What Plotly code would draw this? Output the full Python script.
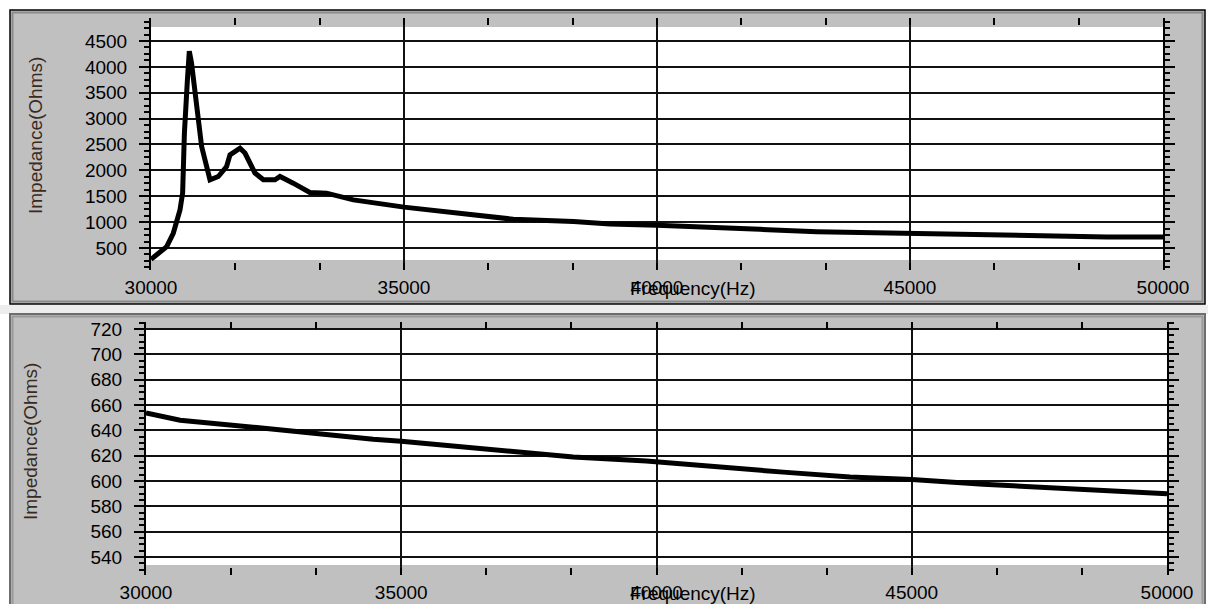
import plotly.graph_objects as go

# ---------------- data ----------------
top_freq = [30000, 30310, 30440, 30573, 30625, 30660, 30720, 30757, 30800, 30870,
            30935, 31000, 31166, 31330, 31494, 31561, 31759, 31857, 32055, 32220,
            32450, 32550, 32810, 33140, 33470, 34000, 35000, 36000, 37160, 38350,
            39070, 40000, 41440, 42030, 43160, 44410, 45000, 46580, 48890, 50000]
top_imp = [281, 525, 785, 1236, 1560, 2722, 3756, 4304, 4080, 3562,
           3110, 2463, 1818, 1882, 2075, 2300, 2430, 2335, 1948, 1818,
           1818, 1882, 1753, 1572, 1560, 1430, 1290, 1185, 1056, 1010,
           965, 940, 870, 860, 816, 790, 785, 746, 713, 712]

bottom_freq = [30000, 30670, 32170, 33280, 34450, 35000, 36080, 37060, 38370,
               39800, 41170, 42480, 43790, 45000, 46400, 47710, 49010, 50000]
bottom_imp = [653.8, 648.0, 642.2, 637.5, 633.0, 631.4, 627.4, 622.9, 619.0,
              615.8, 611.0, 607.0, 603.2, 601.1, 597.4, 594.8, 591.3, 590.0]

x_ticks = [30000, 35000, 40000, 45000, 50000]
x_labels = ["30000", "35000", "40000", "45000", "50000"]
x_title = "Frequency(Hz)"
y_title = "Impedance(Ohms)"

# ---------------- layout helpers ----------------
W, H = 1208, 604
FONT = "Liberation Sans, Arial, sans-serif"


def px(x):
    return x / W


def py(y):
    return 1 - y / H


fig = go.Figure()
fig.add_trace(go.Scatter(x=top_freq, y=top_imp, mode="lines",
                         line=dict(color="black", width=5),
                         xaxis="x", yaxis="y", showlegend=False, hoverinfo="skip"))
fig.add_trace(go.Scatter(x=bottom_freq, y=bottom_imp, mode="lines",
                         line=dict(color="black", width=5),
                         xaxis="x2", yaxis="y2", showlegend=False, hoverinfo="skip"))

tickfont = dict(family=FONT, size=19, color="black")


def xaxis_cfg(domain, anchor):
    return dict(domain=domain, anchor=anchor, range=[30000, 50000], automargin=False,
                tickmode="array", tickvals=x_ticks, ticktext=x_labels,
                showgrid=True, gridcolor="#111111", gridwidth=1.5,
                showline=True, linecolor="rgba(0,0,0,0)", mirror="ticks",
                ticks="inside", ticklen=7, tickwidth=2, tickcolor="black",
                minor=dict(tick0=30000, dtick=20000 / 12, ticks="inside",
                           ticklen=7, tickwidth=2, tickcolor="black", showgrid=False),
                tickfont=tickfont, ticklabelstandoff=0,
                zeroline=False, fixedrange=True)


def yaxis_cfg(domain, anchor, rng, dtick, mdtick):
    return dict(domain=domain, anchor=anchor, range=rng, automargin=False,
                tick0=0, dtick=dtick,
                showgrid=True, gridcolor="#111111", gridwidth=1.5,
                showline=True, linecolor="black", linewidth=2, mirror="ticks",
                ticks="outside", ticklen=10, tickwidth=2, tickcolor="black",
                minor=dict(dtick=mdtick, ticks="outside", ticklen=5,
                           tickwidth=1.5, tickcolor="black", showgrid=False),
                tickfont=tickfont, ticklabelstandoff=8,
                zeroline=False, fixedrange=True)


shapes = [
    # top panel
    dict(type="rect", xref="paper", yref="paper", x0=px(10), x1=px(1205),
         y0=py(304), y1=py(10), fillcolor="#c0c0c0",
         line=dict(color="black", width=1.5), layer="below"),
    dict(type="rect", xref="paper", yref="paper", x0=px(12.5), x1=px(1202.5),
         y0=py(301.5), y1=py(12.5), fillcolor="rgba(0,0,0,0)",
         line=dict(color="#8a8a8a", width=2), layer="below"),
    # light band between panels
    dict(type="rect", xref="paper", yref="paper", x0=0, x1=1,
         y0=py(314), y1=py(305), fillcolor="#ededed", line=dict(width=0), layer="below"),
    # bottom panel
    dict(type="rect", xref="paper", yref="paper", x0=px(10), x1=px(1205),
         y0=py(640), y1=py(314), fillcolor="#c0c0c0",
         line=dict(color="#6e6e6e", width=2), layer="below"),
    dict(type="rect", xref="paper", yref="paper", x0=px(12.5), x1=px(1202.5),
         y0=py(640), y1=py(316.5), fillcolor="rgba(0,0,0,0)",
         line=dict(color="#9a9a9a", width=2), layer="below"),
    # white plot areas
    dict(type="rect", xref="paper", yref="paper", x0=px(151), x1=px(1163),
         y0=py(260), y1=py(27), fillcolor="white", line=dict(width=0), layer="below"),
    dict(type="rect", xref="paper", yref="paper", x0=px(146), x1=px(1167),
         y0=py(565), y1=py(330), fillcolor="white", line=dict(width=0), layer="below"),
]

title_font = dict(family=FONT, size=19, color="#3a2a1e")
annotations = [
    dict(text=y_title, xref="paper", yref="paper", x=px(35), y=py(136),
         textangle=-90, showarrow=False, font=title_font,
         xanchor="center", yanchor="middle"),
    dict(text=y_title, xref="paper", yref="paper", x=px(30), y=py(442),
         textangle=-90, showarrow=False, font=title_font,
         xanchor="center", yanchor="middle"),
    dict(text=x_title, xref="paper", yref="paper", x=px(628), y=py(288),
         showarrow=False, font=dict(family=FONT, size=19, color="black"),
         xanchor="left", yanchor="middle"),
    dict(text=x_title, xref="paper", yref="paper", x=px(628), y=py(593),
         showarrow=False, font=dict(family=FONT, size=19, color="black"),
         xanchor="left", yanchor="middle"),
]

fig.update_layout(
    template="none",
    width=W, height=H, autosize=False,
    margin=dict(l=0, r=0, t=0, b=0, pad=0),
    paper_bgcolor="white", plot_bgcolor="rgba(0,0,0,0)",
    font=dict(family=FONT, size=19, color="black"),
    showlegend=False,
    xaxis=xaxis_cfg([px(151), px(1163)], "y"),
    yaxis=yaxis_cfg([py(270), py(18)], "x", [75, 4944], 500, 125),
    xaxis2=xaxis_cfg([px(146), px(1167)], "y2"),
    yaxis2=yaxis_cfg([py(575), py(322)], "x2", [525.8, 725.5], 20, 5),
    shapes=shapes,
    annotations=annotations,
)

fig.write_html("out.html", config={"displayModeBar": False},
               post_script="document.body.style.margin='0px';"
                           "document.body.style.overflow='hidden';")
